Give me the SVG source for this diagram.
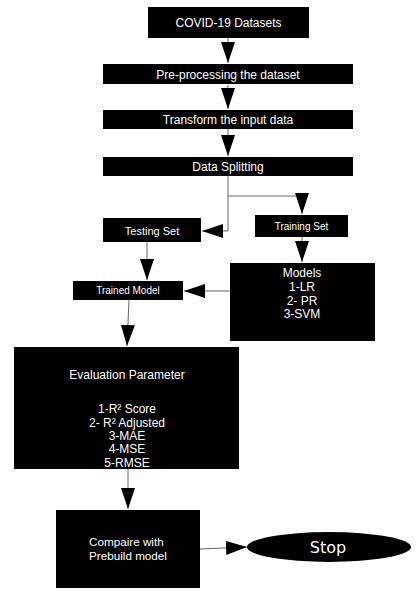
<svg xmlns="http://www.w3.org/2000/svg" width="418" height="592" viewBox="0 0 418 592">
<style>
.box{fill:#000;}
.t{fill:#fff;font-family:"Liberation Sans",Arial,sans-serif;font-size:12px;text-anchor:middle;}
.s10{font-size:10px;}
.s11{font-size:11px;}
.c{fill:none;stroke:#666;stroke-width:1;}
.stop{fill:#fff;font-family:"DejaVu Sans",sans-serif;font-size:16px;text-anchor:middle;}
</style>
<defs>
<marker id="ah" markerUnits="userSpaceOnUse" markerWidth="21" markerHeight="14" refX="21" refY="7" orient="auto" viewBox="0 0 21 14">
<path d="M0,0 L21,7 L0,14 z" fill="#000"/>
</marker>
</defs>
<rect width="418" height="592" fill="#fff"/>
<g id="connectors">
<path class="c" d="M228,38 L228,63" marker-end="url(#ah)"/>
<path class="c" d="M228,85 L228,109" marker-end="url(#ah)"/>
<path class="c" d="M228,129 L228,156" marker-end="url(#ah)"/>
<path class="c" d="M228,176 L228,196 L302,196 L302,214" marker-end="url(#ah)"/>
<path class="c" d="M228,196 L228,231 L202,231" marker-end="url(#ah)"/>
<path class="c" d="M147,242 L147,280" marker-end="url(#ah)"/>
<path class="c" d="M302,237 L302,262" marker-end="url(#ah)"/>
<path class="c" d="M230,291 L184,291" marker-end="url(#ah)"/>
<path class="c" d="M129,300 L127,346" marker-end="url(#ah)"/>
<path class="c" d="M128,469 L128,509" marker-end="url(#ah)"/>
<path class="c" d="M200,549 L247,547" marker-end="url(#ah)"/>
</g>
<g id="covid">
<rect class="box" x="148" y="7" width="161" height="31"/>
<text class="t" x="228.5" y="27">COVID-19 Datasets</text>
</g>
<g id="preprocessing">
<rect class="box" x="103" y="64" width="250" height="20"/>
<text class="t" x="228" y="78.5">Pre-processing the dataset</text>
</g>
<g id="transform">
<rect class="box" x="103" y="110" width="250" height="19"/>
<text class="t" x="228" y="124">Transform the input data</text>
</g>
<g id="splitting">
<rect class="box" x="103" y="157" width="250" height="19"/>
<text class="t" x="228" y="171">Data Splitting</text>
</g>
<g id="testing">
<rect class="box" x="103" y="218" width="98" height="24"/>
<text class="t s11" x="152" y="234.5">Testing Set</text>
</g>
<g id="training">
<rect class="box" x="255" y="215" width="93" height="22"/>
<text class="t s10" x="301.5" y="229.5">Training Set</text>
</g>
<g id="trained">
<rect class="box" x="73" y="281" width="110" height="19"/>
<text class="t s10" x="128" y="294">Trained Model</text>
</g>
<g id="models">
<rect class="box" x="230" y="263" width="145" height="78"/>
<text class="t" x="302" y="277">Models</text>
<text class="t" x="302" y="291">1-LR</text>
<text class="t" x="302" y="304.5">2- PR</text>
<text class="t" x="302" y="318">3-SVM</text>
</g>
<g id="evaluation">
<rect class="box" x="14" y="347" width="225" height="122"/>
<text class="t" x="127" y="379">Evaluation Parameter</text>
<text class="t" x="127" y="413">1-R² Score</text>
<text class="t" x="127" y="426.5">2- R² Adjusted</text>
<text class="t" x="127" y="440">3-MAE</text>
<text class="t" x="127" y="453">4-MSE</text>
<text class="t" x="127" y="467">5-RMSE</text>
</g>
<g id="compare">
<rect class="box" x="56" y="510" width="144" height="78"/>
<text class="t" x="89" y="546" style="text-anchor:start;font-size:11.7px">Compaire with</text>
<text class="t" x="89" y="560" style="text-anchor:start;font-size:11.7px">Prebuild model</text>
</g>
<g id="stop">
<ellipse cx="329" cy="547" rx="82" ry="15" fill="#000"/>
<text class="stop" x="328" y="553">Stop</text>
</g>
</svg>
